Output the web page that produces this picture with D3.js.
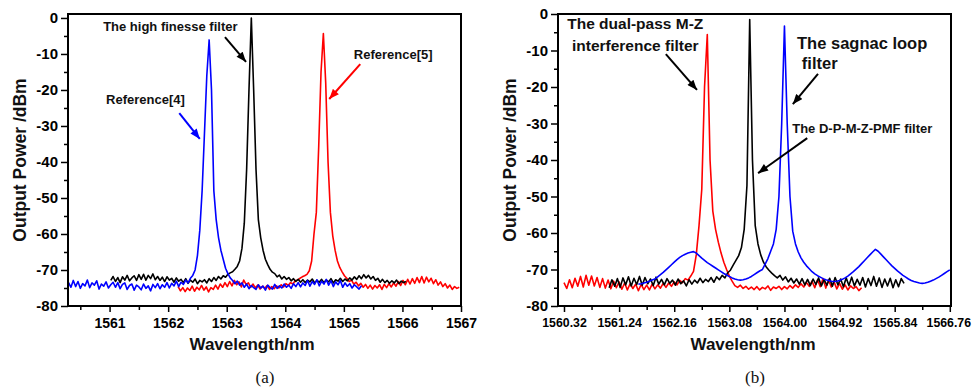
<!DOCTYPE html>
<html>
<head>
<meta charset="utf-8">
<script src="https://cdn.jsdelivr.net/npm/d3@7"></script>
<style>
  body { margin: 0; background: #fff; }
  text { font-family: "Liberation Sans", Arial, sans-serif; }
</style>
</head>
<body>
<div id="chart"></div>
<script>
// ---- data (wavelength in nm, power in dBm) ----
const yTicks = [0, -10, -20, -30, -40, -50, -60, -70, -80];
const xTicksA = [1561, 1562, 1563, 1564, 1565, 1566, 1567];
const xTicksB = [1560.32, 1561.24, 1562.16, 1563.08, 1564.00, 1564.92, 1565.84, 1566.76];

// panel (a): spectra sampled at a fixed step
const aBlueStart = 1560.30, aBlueStep = 0.04;
const aBlue = [
  -73.5,-74.8,-72.9,-74.6,-73.2,-75.1,-73.8,-74.4,-72.8,-74.9,
  -73.6,-74.2,-73.0,-75.3,-73.9,-74.5,-73.3,-75.0,-74.1,-73.4,
  -74.8,-73.5,-75.2,-74.0,-73.6,-75.4,-74.3,-73.9,-75.6,-74.2,
  -74.7,-75.5,-73.9,-75.1,-74.4,-75.8,-74.0,-74.9,-73.8,-75.2,
  -74.1,-74.8,-73.5,-75.0,-73.7,-74.4,-73.1,-74.6,-73.4,-74.0,
  -72.8,-73.6,-72.3,-71.5,-70.0,-66,-59,-48,-32,-16,
  -6.1,
  -20,-48,-56,-61,-64.5,-67,-69.5,-71,-72.2,
  -72.9,-73.8,-73.1,-74.2,-73.6,-74.8,-73.9,-75.2,-74.3,-74.9,
  -75.4,-74.1,-75.0,-74.5,-75.6,-74.2,-74.9,-75.3,-74.0,-75.1,
  -74.4,-75.0,-73.9,-74.8,-74.2,-75.1,-73.8,-74.6,-73.5,-74.7,
  -73.6,-74.3,-72.9,-74.5,-73.2,-74.0,-72.7,-74.4,-73.1,-73.9,
  -72.6,-74.2,-73.0,-74.6,-73.3,-74.1,-72.9,-74.8,-73.6,-74.5,
  -73.8,-75.0,-74.1,-74.7,-75.3,-74.4
];

const aBlackStart = 1561.02, aBlackStep = 0.04;
const aBlack = [
  -72.9,-71.8,-73.2,-72.1,-73.5,-71.9,-72.8,-71.5,-73.0,-72.2,
  -71.6,-72.9,-71.3,-72.6,-71.2,-72.8,-71.5,-72.4,-71.1,-72.7,
  -71.8,-72.9,-72.0,-73.2,-71.9,-72.8,-72.3,-73.4,-72.2,-73.1,
  -72.6,-73.5,-72.4,-73.7,-72.8,-73.4,-72.5,-73.8,-72.9,-73.3,
  -72.7,-73.6,-72.4,-73.2,-72.1,-72.9,-71.8,-72.5,-71.6,-72.0,
  -71.2,-70.8,-70.5,-69.8,-69.0,-67.5,-64,-57,-42,-20,
  0,
  -20,-42,-56,-61,-64.5,-67,-68.5,-69.8,-70.6,
  -71.0,-71.9,-71.4,-72.5,-71.8,-72.6,-72.1,-73.0,-72.4,-73.2,
  -72.6,-73.4,-72.7,-73.5,-72.8,-73.3,-72.5,-73.6,-72.9,-73.4,
  -72.6,-73.5,-72.8,-73.3,-72.4,-73.6,-72.7,-73.1,-72.3,-73.2,
  -72.5,-73.0,-72.2,-72.8,-71.9,-72.6,-71.6,-72.4,-71.3,-72.2,
  -71.5,-72.5,-71.8,-72.9,-72.3,-73.4,-72.6,-73.5,-72.9,-73.7,
  -73.0,-73.6,-72.8,-73.8,-73.1,-73.5,-73.2
];

const aRedStart = 1562.17, aRedStep = 0.04;
const aRed = [
  -74.6,-75.8,-74.9,-76.0,-75.0,-75.7,-74.5,-75.9,-74.8,-75.5,
  -74.3,-75.6,-74.7,-76.1,-74.9,-75.4,-74.2,-75.3,-73.9,-74.8,
  -73.5,-74.6,-73.2,-74.4,-72.9,-74.1,-73.3,-74.7,-72.8,-74.0,
  -73.6,-74.8,-73.9,-75.0,-74.2,-75.3,-74.5,-75.1,-74.3,-75.4,
  -74.6,-75.2,-74.4,-75.0,-74.1,-74.7,-73.8,-74.3,-73.5,-73.9,
  -73.0,-72.8,-72.3,-71.9,-71.6,-71.2,-70.2,-67.5,-60,-54,
  -36,-15,
  -4.3,
  -18,-40,-54,-60.5,-64.5,-67.5,-69.3,
  -70.5,-71.6,-72.3,-73.2,-72.8,-73.9,-73.4,-74.4,-73.7,-74.8,
  -74.0,-75.1,-74.2,-75.3,-74.3,-75.0,-74.1,-75.4,-74.0,-74.9,
  -73.8,-74.7,-73.6,-74.5,-73.2,-74.3,-72.9,-74.1,-72.6,-73.9,
  -72.4,-73.7,-72.1,-73.5,-71.8,-73.6,-72.0,-73.3,-72.3,-73.8,
  -72.7,-74.2,-73.3,-74.6,-73.8,-75.0,-74.2,-75.4,-74.6,-75.1,-74.8
];

// panel (b)
const bRedStart = 1560.32, bRedStep = 0.046;
const bRed = [
  -73.6,-75.2,-72.8,-75.0,-72.4,-74.6,-71.9,-74.8,-71.6,-74.3,
  -71.8,-74.5,-72.2,-74.9,-72.5,-75.1,-72.9,-75.3,-73.2,-75.0,
  -73.4,-75.4,-73.7,-75.6,-73.9,-75.2,-74.0,-75.8,-74.1,-75.5,
  -74.3,-75.6,-74.0,-75.3,-74.2,-75.1,-73.8,-74.9,-73.7,-74.6,
  -73.4,-74.2,-73.0,-73.6,-72.5,-72.9,-71.8,-70.5,-66,-58,
  -48,-20,-5.6,
  -40,-54,-59,-62.5,-65.5,-68,-70,-71.8,-73.2,
  -74.4,-74.9,-74.3,-75.2,-74.6,-75.4,-74.8,-75.5,
  -74.7,-75.6,-74.9,-75.3,-74.5,-75.7,-74.8,-75.2,-74.6,-75.5,
  -74.7,-75.3,-74.4,-75.1,-74.2,-74.9,-73.9,-74.8,-73.6,-74.6,
  -73.2,-75.0,-72.8,-74.7,-72.5,-75.1,-72.9,-74.8,-73.4,-75.3,
  -73.8,-75.4,-74.2,-75.6,-74.5,-75.2,-74.7,-75.8,-75.0
];

const bBlackStart = 1561.074, bBlackStep = 0.046;
const bBlack = [
  -75.0,-72.8,-74.6,-72.5,-74.9,-72.3,-74.2,-72.0,-74.5,-72.4,
  -74.1,-71.9,-74.3,-72.2,-73.9,-72.6,-74.4,-72.1,-74.0,-72.7,
  -74.2,-72.5,-73.8,-72.9,-74.3,-72.6,-73.9,-73.1,-74.5,-72.8,
  -74.0,-72.9,-73.7,-72.4,-73.6,-72.7,-73.3,-72.2,-73.5,-72.0,
  -72.8,-71.6,-72.3,-70.9,
  -70.2,-68.8,-67.5,-66.2,-64,-59,-47,-1.5,-40,-58,-63,-66,-68,-69.3,-70.2,-71,-71.7,
  -72.3,-71.6,-72.9,-72.0,-73.4,-72.4,-73.7,-72.6,-74.0,
  -72.5,-74.2,-72.7,-74.4,-72.6,-74.1,-72.3,-74.5,-72.8,-74.3,
  -72.4,-74.6,-72.2,-74.2,-72.6,-74.7,-72.3,-74.4,-72.1,-74.5,
  -72.7,-74.3,-72.2,-74.8,-72.5,-74.4,-71.9,-74.6,-72.3,-74.9,
  -72.6,-74.5,-72.4,-75.0,-72.8,-74.7,-72.5,-73.8
];

const bBlueStart = 1561.562, bBlueStep = 0.046;
const bBlue = [
  -74.0,-73.9,-73.7,-73.5,-73.2,-72.9,-72.6,-72.0,-71.4,-70.8,
  -70.1,-69.4,-68.7,-68.0,-67.3,-66.7,-66.2,-65.8,-65.5,-65.3,
  -65.1,-65.5,-66.2,-66.9,-67.5,-68.1,-68.6,-69.1,-69.6,-70.1,
  -70.6,-71.1,-71.5,-71.9,-72.3,-72.6,-72.8,-72.9,-72.8,-72.6,
  -72.3,-71.9,-71.4,-70.9,-70.4,-70.0,-68.5,-67.0,-65.0,-63.0,
  -59,-50,-30,-3.3,-30,-50,-59.5,-63,-65.2,-66.8,
  -68.0,-69.0,-69.8,-70.6,-71.2,-71.7,-72.1,-72.5,-72.8,-73.0,
  -73.2,-73.3,-73.2,-73.0,-72.7,-72.3,-71.8,-71.2,-70.6,-69.9,
  -69.2,-68.4,-67.6,-66.8,-66.0,-65.2,-64.5,-65.0,-65.8,-66.6,
  -67.4,-68.2,-69.0,-69.7,-70.4,-71.0,-71.6,-72.1,-72.6,-73.0,
  -73.3,-73.5,-73.7,-73.8,-73.7,-73.5,-73.2,-72.9,-72.5,-72.1,
  -71.6,-71.1,-70.6,-70.1
];

function toPoints(start, step, values) {
  return values.map((v, i) => [start + i * step, v]);
}

const width = 972, height = 388;
const svg = d3.select("#chart").append("svg")
  .attr("width", width)
  .attr("height", height);

const defs = svg.append("defs");
["black", "blue", "red"].forEach(c => {
  defs.append("marker")
    .attr("id", "head-" + c)
    .attr("markerUnits", "userSpaceOnUse")
    .attr("viewBox", "0 0 10 8")
    .attr("refX", 10).attr("refY", 4)
    .attr("markerWidth", 11).attr("markerHeight", 8)
    .attr("orient", "auto")
    .append("path")
    .attr("d", "M0,0 L10,4 L0,8 Z")
    .attr("fill", c === "blue" ? "#0000ff" : c === "red" ? "#ff0000" : "#000");
});

const colors = { black: "#000000", red: "#ff0000", blue: "#0000ff" };

function panel(opt) {
  const x = d3.scaleLinear().domain(opt.xDomain).range([opt.left, opt.right]);
  const y = d3.scaleLinear().domain(opt.yDomain).range([opt.bottom, opt.top]);
  const g = svg.append("g");

  const clipId = "clip-" + opt.id;
  defs.append("clipPath").attr("id", clipId)
    .append("rect")
    .attr("x", opt.left).attr("y", opt.top)
    .attr("width", opt.right - opt.left).attr("height", opt.bottom - opt.top);

  // spectra
  const line = d3.line().x(d => x(d[0])).y(d => y(d[1]));
  const lines = g.append("g").attr("clip-path", `url(#${clipId})`);
  opt.series.forEach(s => {
    lines.append("path")
      .datum(s.points)
      .attr("fill", "none")
      .attr("stroke", colors[s.color])
      .attr("stroke-width", 1.6)
      .attr("stroke-linejoin", "round")
      .attr("d", line);
  });

  // minor ticks
  g.append("g")
    .attr("transform", `translate(0,${opt.bottom})`)
    .call(d3.axisBottom(x).tickValues(opt.xMinor).tickSize(4).tickFormat("").tickSizeOuter(0))
    .call(a => a.select(".domain").remove())
    .call(a => a.selectAll("line").attr("stroke-width", 1.5));
  g.append("g")
    .attr("transform", `translate(${opt.left},0)`)
    .call(d3.axisLeft(y).tickValues(d3.range(-75, 0, 10)).tickSize(4).tickFormat("").tickSizeOuter(0))
    .call(a => a.select(".domain").remove())
    .call(a => a.selectAll("line").attr("stroke-width", 1.5));

  // major ticks + labels
  const xa = g.append("g")
    .attr("transform", `translate(0,${opt.bottom})`)
    .call(d3.axisBottom(x).tickValues(opt.xTicks).tickSize(6).tickPadding(6)
      .tickFormat(opt.xFormat).tickSizeOuter(0));
  xa.select(".domain").remove();
  xa.selectAll("line").attr("stroke-width", 1.5);
  xa.selectAll("text")
    .attr("fill", "#000")
    .style("font-size", opt.xFont + "px")
    .style("font-weight", "bold")
    .style("font-family", "'Liberation Sans', Arial, sans-serif");
  if (opt.lastLabelShift) {
    xa.selectAll("text").filter((d, i, n) => i === n.length - 1)
      .attr("dx", opt.lastLabelShift);
  }

  const ya = g.append("g")
    .attr("transform", `translate(${opt.left},0)`)
    .call(d3.axisLeft(y).tickValues(yTicks).tickSize(7).tickPadding(3)
      .tickFormat(d => String(d)).tickSizeOuter(0));
  ya.select(".domain").remove();
  ya.selectAll("line").attr("stroke-width", 1.5);
  ya.selectAll("text")
    .attr("fill", "#000")
    .style("font-size", "15px")
    .style("font-weight", "bold")
    .style("font-family", "'Liberation Sans', Arial, sans-serif");

  // frame
  g.append("rect")
    .attr("x", opt.left).attr("y", opt.top)
    .attr("width", opt.right - opt.left).attr("height", opt.bottom - opt.top)
    .attr("fill", "none").attr("stroke", "#000").attr("stroke-width", 2);

  // axis titles
  g.append("text")
    .attr("x", opt.xTitleX).attr("y", 350)
    .attr("text-anchor", "middle")
    .style("font-size", "17px").style("font-weight", "bold")
    .attr("fill", "#111")
    .text("Wavelength/nm");
  g.append("text")
    .attr("transform", `translate(${opt.left - 42.5},160) rotate(-90)`)
    .attr("text-anchor", "middle")
    .style("font-size", "17.5px").style("font-weight", "bold")
    .attr("fill", "#111")
    .text("Output Power /dBm");

  // caption
  g.append("text")
    .attr("x", (opt.left + opt.right) / 2 + opt.capShift).attr("y", 383)
    .attr("text-anchor", "middle")
    .style("font-family", "'Liberation Serif', 'Times New Roman', serif")
    .style("font-size", "17px")
    .attr("fill", "#111")
    .text(opt.caption);

  // annotations (positions given in data units)
  opt.labels.forEach(l => {
    g.append("text")
      .attr("x", x(l.w)).attr("y", y(l.p))
      .attr("text-anchor", l.anchor || "start")
      .style("font-size", l.size + "px").style("font-weight", "bold")
      .attr("fill", "#111")
      .text(l.text);
  });
  opt.arrows.forEach(a => {
    g.append("line")
      .attr("x1", x(a.w1)).attr("y1", y(a.p1))
      .attr("x2", x(a.w2)).attr("y2", y(a.p2))
      .attr("stroke", colors[a.color])
      .attr("stroke-width", 2)
      .attr("marker-end", `url(#head-${a.color})`);
  });
}

panel({
  id: "a",
  left: 68, right: 461, top: 14, bottom: 306,
  xDomain: [1560.29, 1567.0], yDomain: [-80, 1.1],
  xTicks: xTicksA, xMinor: d3.range(1560.5, 1567, 1), xFormat: d => String(d), xFont: 14,
  xTitleX: 252, capShift: 0.5, caption: "(a)",
  series: [
    { color: "red", points: toPoints(aRedStart, aRedStep, aRed) },
    { color: "black", points: toPoints(aBlackStart, aBlackStep, aBlack) },
    { color: "blue", points: toPoints(aBlueStart, aBlueStep, aBlue) }
  ],
  labels: [
    { text: "The high finesse filter", w: 1560.89, p: -3.6, size: 13 },
    { text: "Reference[4]", w: 1560.94, p: -23.9, size: 13 },
    { text: "Reference[5]", w: 1565.17, p: -11.4, size: 13 }
  ],
  arrows: [
    { color: "black", w1: 1562.97, p1: -5.3, w2: 1563.33, p2: -12.2 },
    { color: "blue", w1: 1562.19, p1: -26.4, w2: 1562.54, p2: -33.6 },
    { color: "red", w1: 1565.28, p1: -12.8, w2: 1564.75, p2: -22.5 }
  ]
});

panel({
  id: "b",
  left: 558, right: 951, top: 14, bottom: 306,
  xDomain: [1560.22, 1566.78], yDomain: [-80, 0],
  xTicks: xTicksB, xMinor: xTicksB.slice(0, -1).map(t => t + 0.46),
  xFormat: d3.format(".2f"), xFont: 12.3, lastLabelShift: -1.5,
  xTitleX: 753, capShift: 0.5, caption: "(b)",
  series: [
    { color: "red", points: toPoints(bRedStart, bRedStep, bRed) },
    { color: "black", points: toPoints(bBlackStart, bBlackStep, bBlack) },
    { color: "blue", points: toPoints(bBlueStart, bBlueStep, bBlue) }
  ],
  labels: [
    { text: "The dual-pass M-Z", w: 1561.51, p: -4.2, size: 15.5, anchor: "middle" },
    { text: "interference filter", w: 1561.51, p: -10.0, size: 15.5, anchor: "middle" },
    { text: "The sagnac loop", w: 1564.21, p: -9.6, size: 16.5 },
    { text: "filter", w: 1564.29, p: -15.1, size: 16.5 },
    { text: "The D-P-M-Z-PMF filter", w: 1564.13, p: -32.6, size: 13 }
  ],
  arrows: [
    { color: "black", w1: 1562.02, p1: -11.0, w2: 1562.54, p2: -20.8 },
    { color: "black", w1: 1564.56, p1: -16.4, w2: 1564.14, p2: -24.7 },
    { color: "black", w1: 1564.38, p1: -34.0, w2: 1563.56, p2: -43.6 }
  ]
});
</script>
</body>
</html>
